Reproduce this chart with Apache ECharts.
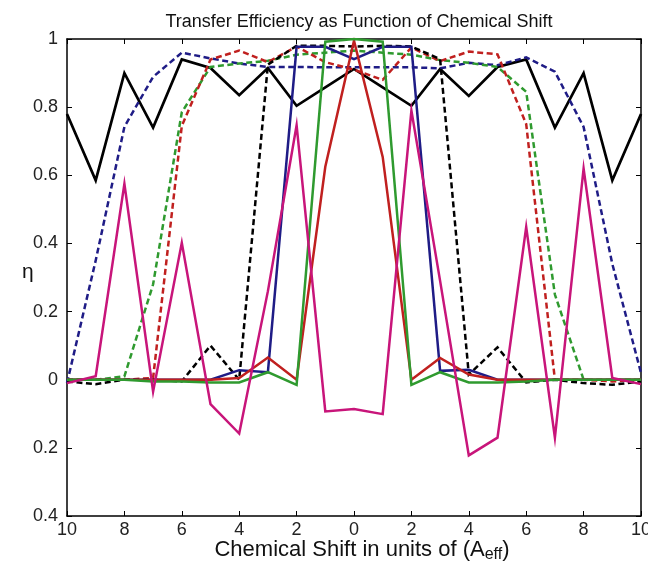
<!DOCTYPE html>
<html>
<head>
<meta charset="utf-8">
<script src="https://cdn.jsdelivr.net/npm/echarts@6/dist/echarts.min.js"></script>
<style>html,body{margin:0;padding:0;background:#fff}#c{width:648px;height:573px}</style>
</head>
<body>
<div id="c"></div>
<script>
// Chemical shift positions
const shifts = [-10,-9,-8,-7,-6,-5,-4,-3,-2,-1,0,1,2,3,4,5,6,7,8,9,10];
const xTicks = [-10,-8,-6,-4,-2,0,2,4,6,8,10];
const yTicks = [-0.4,-0.2,0,0.2,0.4,0.6,0.8,1];

const blackSolid  = [0.78,0.585,0.90,0.74,0.94,0.915,0.835,0.915,0.804,0.858,0.912,0.858,0.804,0.912,0.833,0.918,0.94,0.74,0.90,0.585,0.78];
const navyDashed  = [-0.01,0.35,0.742,0.889,0.96,0.943,0.928,0.918,0.918,0.917,0.917,0.917,0.917,0.914,0.93,0.923,0.946,0.904,0.742,0.34,0.02];
const redDashed   = [0,0,0,0.005,0.745,0.94,0.966,0.932,0.978,0.932,0.91,0.88,0.975,0.935,0.963,0.955,0.75,0.0,0,-0.005,0];
const greenDashed = [0,0,0.01,0.28,0.785,0.918,0.928,0.936,0.954,0.96,0.966,0.96,0.954,0.938,0.93,0.918,0.845,0.25,0,0,0];
const blackDashed = [-0.005,-0.013,0,0,-0.005,0.1,0,0.925,0.98,0.98,0.978,0.98,0.978,0.941,0.015,0.095,-0.008,0,-0.01,-0.015,-0.005];
const navySolid   = [0,0,0,0,0,0,0.028,0.022,0.977,0.977,0.941,0.977,0.977,0.026,0.029,0,0,0,0,0,0];
const redSolid    = [0,0,0,0,0,0,0.005,0.065,0,0.625,0.995,0.654,0,0.064,0.015,0,0,0,0,0,0];
const greenSolid  = [0,0,0,-0.005,-0.005,-0.008,-0.008,0.022,-0.015,0.992,1.0,0.992,-0.015,0.022,-0.008,-0.008,-0.005,0,0,0,0];
const pinkSolid   = [-0.01,0.01,0.575,-0.035,0.402,-0.072,-0.158,0.26,0.747,-0.093,-0.086,-0.101,0.79,0.29,-0.222,-0.17,0.448,-0.17,0.62,0.005,-0.013];

const pair = arr => shifts.map((x,i)=>[x,arr[i]]);
const DASH = [6,3.5];
function mk(name, arr, color, dashed, w){
  return {name, type:'line', data:pair(arr), symbol:'none', silent:true, animation:false,
    lineStyle:{color, width:w||2.5, type: dashed?DASH:'solid', join:'miter'}};
}

const chart = echarts.init(document.getElementById('c'), null, {renderer:'canvas'});
const fontFam = '"Liberation Sans", Arial, Helvetica, sans-serif';
const yFmt = v => { const a = Math.abs(Math.round(v*10)/10); return a===0?'0':String(a); };
const xFmt = v => String(Math.abs(Math.round(v)));
const axLine = {show:true, onZero:false, lineStyle:{color:'#000', width:1.5}};
const axTick = {show:true, inside:true, length:5, lineStyle:{color:'#000', width:1}};

chart.setOption({
  animation:false,
  backgroundColor:'#fff',
  title:{text:'Transfer Efficiency as Function of Chemical Shift', left:354, top:8, textAlign:'center',
    textStyle:{fontFamily:fontFam, fontSize:18, fontWeight:'normal', color:'#111'}},
  grid:{left:67, right:7, top:39, bottom:57, containLabel:false, outerBoundsMode:'none'},
  xAxis:[
    {type:'value', min:-10, max:10, interval:2, position:'bottom',
     axisLine:axLine, axisTick:axTick,
     axisLabel:{formatter:xFmt, fontFamily:fontFam, fontSize:18, color:'#222', margin:5},
     splitLine:{show:false}},
    {type:'value', min:-10, max:10, interval:2, position:'top',
     axisLine:axLine, axisTick:axTick, axisLabel:{show:false}, splitLine:{show:false}}
  ],
  yAxis:[
    {type:'value', min:-0.4, max:1, interval:0.2, position:'left',
     axisLine:axLine, axisTick:axTick,
     axisLabel:{formatter:yFmt, fontFamily:fontFam, fontSize:18, color:'#222', margin:9},
     splitLine:{show:false}},
    {type:'value', min:-0.4, max:1, interval:0.2, position:'right',
     axisLine:axLine, axisTick:axTick, axisLabel:{show:false}, splitLine:{show:false}}
  ],
  graphic:[
    {type:'text', x:362, y:537, style:{
      text:'Chemical Shift in units of (A{s|eff})', align:'center',
      rich:{s:{fontSize:16, fontFamily:fontFam, fill:'#111', verticalAlign:'bottom', padding:[10,0,0,0]}},
      fontFamily:fontFam, fontSize:22, fill:'#111'}},
    {type:'text', x:22, y:262, style:{text:'η', fontFamily:fontFam, fontSize:21, fill:'#111'}}
  ],
  series:[
    mk('blackSolid', blackSolid, '#000000', false, 2.7),
    mk('navyDashed', navyDashed, '#1f1c86', true),
    mk('greenDashed', greenDashed, '#2f9a2f', true),
    mk('redDashed', redDashed, '#c0201f', true),
    mk('blackDashed', blackDashed, '#000000', true),
    mk('navySolid', navySolid, '#1f1c86', false),
    mk('redSolid', redSolid, '#c0201f', false),
    mk('greenSolid', greenSolid, '#2f9a2f', false),
    mk('pinkSolid', pinkSolid, '#c8157a', false)
  ]
});
</script>
</body>
</html>
